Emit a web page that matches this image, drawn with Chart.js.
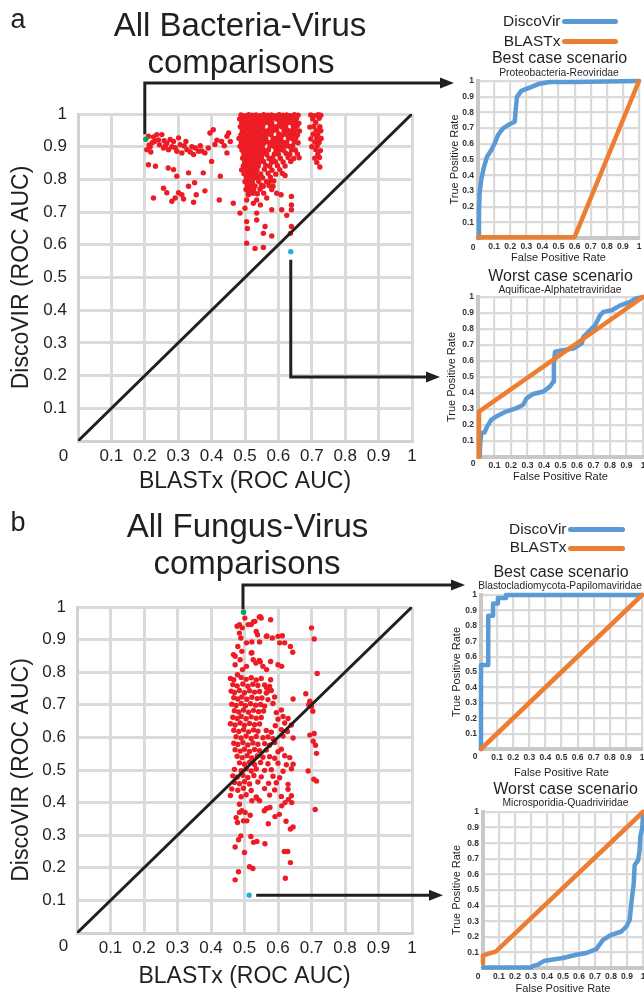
<!DOCTYPE html>
<html>
<head>
<meta charset="utf-8">
<script src="https://cdn.jsdelivr.net/npm/chart.js@4.4.1/dist/chart.umd.min.js"></script>
<style>
body { margin: 0; background: #fff; }
#page { position: relative; width: 644px; height: 998px; overflow: hidden; font-family: "Liberation Sans", Arial, sans-serif; color: #231f20; }
#page canvas { position: absolute; }
.c { position: absolute; white-space: nowrap; line-height: 1; transform: translate(-50%, -50%); }
.r { position: absolute; white-space: nowrap; line-height: 1; transform: translate(-100%, -50%); }
.key { position: absolute; height: 5px; border-radius: 3px; }
.zero { font-size: 8.5px; font-weight: bold; color: #333; }
</style>
</head>
<body>
<div id="page">
  <canvas id="scatterA" width="430" height="400" style="left:0;top:100px"></canvas>
  <canvas id="scatterB" width="430" height="400" style="left:0;top:592px"></canvas>
  <canvas id="rocA1" width="214" height="196" style="left:430px;top:74px"></canvas>
  <canvas id="rocA2" width="214" height="200" style="left:430px;top:290px"></canvas>
  <canvas id="rocB1" width="214" height="196" style="left:430px;top:588px"></canvas>
  <canvas id="rocB2" width="214" height="193" style="left:430px;top:805px"></canvas>
  <canvas id="arrows" width="644" height="998" style="left:0;top:0"></canvas>

  <div class="c" style="left:18px;top:19px;font-size:27px">a</div>
  <div class="c" style="left:18px;top:522px;font-size:27px">b</div>
  <div class="c" style="left:240px;top:23.5px;font-size:33px">All Bacteria-Virus</div>
  <div class="c" style="left:241px;top:61px;font-size:33px">comparisons</div>
  <div class="c" style="left:247.5px;top:525px;font-size:33px">All Fungus-Virus</div>
  <div class="c" style="left:247px;top:562px;font-size:33px">comparisons</div>
  <div class="c" style="left:63.5px;top:455px;font-size:17px">0</div>
  <div class="c" style="left:63.5px;top:945px;font-size:17px">0</div>

  <div class="r" style="left:560.5px;top:21px;font-size:15.5px">DiscoVir</div>
  <div class="key" style="left:562px;top:19px;width:56px;background:#5b9bd5"></div>
  <div class="r" style="left:560.5px;top:40.5px;font-size:15.5px">BLASTx</div>
  <div class="key" style="left:562px;top:39px;width:56px;background:#ed7d31"></div>
  <div class="c" style="left:559.5px;top:58px;font-size:16px">Best case scenario</div>
  <div class="c" style="left:559px;top:73px;font-size:10.3px">Proteobacteria-Reoviridae</div>
  <div class="c" style="left:560.5px;top:276px;font-size:16px">Worst case scenario</div>
  <div class="c" style="left:560px;top:290px;font-size:10.3px">Aquificae-Alphatetraviridae</div>

  <div class="r" style="left:566.5px;top:528.5px;font-size:15.5px">DiscoVir</div>
  <div class="key" style="left:568px;top:526.5px;width:57px;background:#5b9bd5"></div>
  <div class="r" style="left:566.5px;top:547px;font-size:15.5px">BLASTx</div>
  <div class="key" style="left:568px;top:546px;width:57px;background:#ed7d31"></div>
  <div class="c" style="left:561px;top:572px;font-size:16px">Best case scenario</div>
  <div class="c" style="left:560px;top:586px;font-size:10.2px">Blastocladiomycota-Papilomaviridae</div>
  <div class="c" style="left:565.5px;top:789px;font-size:16px">Worst case scenario</div>
  <div class="c" style="left:565.5px;top:803px;font-size:10.3px">Microsporidia-Quadriviridae</div>

  <div class="c zero" style="left:473px;top:247px">0</div>
  <div class="c zero" style="left:473px;top:463px">0</div>
  <div class="c zero" style="left:475px;top:756px">0</div>
  <div class="c zero" style="left:478px;top:976px">0</div>
</div>

<script>
const FONT = '"Liberation Sans", Arial, sans-serif';
Chart.defaults.font.family = FONT;

// ticks shared by every panel (the 0 sits in the corner, written separately)
const tickValues = [0, 0.1, 0.2, 0.3, 0.4, 0.5, 0.6, 0.7, 0.8, 0.9, 1];
const identityLine = [0, 1];

// a: Bacteria-Virus, [BLASTx AUC, DiscoVIR AUC]
const bacteriaBest = [0.203, 0.923];
const bacteriaWorst = [0.637, 0.579];
const bacteriaPoints = [
  [0.211,0.932],[0.226,0.930],[0.236,0.937],[0.251,0.937],[0.206,0.891],[0.216,0.900],[0.229,0.916],[0.244,0.906],
  [0.256,0.896],[0.266,0.911],[0.271,0.891],[0.281,0.900],[0.286,0.916],[0.301,0.927],[0.306,0.906],[0.296,0.886],
  [0.311,0.881],[0.326,0.891],[0.341,0.900],[0.351,0.896],[0.361,0.886],[0.346,0.876],[0.380,0.881],[0.390,0.896],
  [0.395,0.942],[0.405,0.952],[0.416,0.920],[0.430,0.916],[0.446,0.932],[0.451,0.942],[0.456,0.916],[0.446,0.881],
  [0.400,0.855],[0.211,0.845],[0.232,0.840],[0.270,0.835],[0.286,0.830],[0.296,0.810],[0.331,0.820],[0.375,0.820],
  [0.426,0.810],[0.256,0.773],[0.266,0.759],[0.226,0.743],[0.281,0.733],[0.291,0.743],[0.301,0.759],[0.311,0.753],
  [0.316,0.740],[0.331,0.779],[0.346,0.730],[0.349,0.790],[0.354,0.753],[0.380,0.765],[0.423,0.737],[0.465,0.727],
  [0.485,0.697],[0.222,0.912],[0.241,0.921],[0.258,0.918],[0.262,0.903],[0.276,0.922],[0.291,0.897],[0.318,0.902],
  [0.323,0.916],[0.336,0.884],[0.366,0.903],[0.371,0.887],[0.410,0.907],[0.438,0.903],[0.213,0.905],[0.218,0.884],
  [0.488,0.997],[0.499,0.995],[0.511,0.998],[0.522,0.996],[0.533,0.997],[0.545,0.995],[0.556,0.998],[0.567,0.996],
  [0.579,0.997],[0.590,0.995],[0.602,0.998],[0.613,0.996],[0.625,0.997],[0.636,0.995],[0.648,0.998],[0.659,0.996],
  [0.697,0.997],[0.708,0.995],[0.719,0.998],[0.727,0.996],
  [0.484,0.985],[0.495,0.987],[0.506,0.984],[0.518,0.986],[0.529,0.985],[0.540,0.987],[0.552,0.984],[0.563,0.986],
  [0.574,0.985],[0.586,0.987],[0.597,0.984],[0.609,0.986],[0.620,0.985],[0.631,0.987],[0.643,0.984],[0.654,0.986],
  [0.703,0.985],[0.722,0.987],
  [0.490,0.973],[0.501,0.975],[0.512,0.972],[0.524,0.974],[0.535,0.973],[0.546,0.975],[0.557,0.972],[0.569,0.974],
  [0.580,0.973],[0.604,0.975],[0.615,0.972],[0.627,0.974],[0.638,0.973],[0.650,0.975],[0.661,0.972],[0.712,0.974],
  [0.486,0.961],[0.497,0.963],[0.508,0.960],[0.520,0.962],[0.531,0.961],[0.542,0.963],[0.553,0.960],[0.576,0.962],
  [0.588,0.961],[0.599,0.963],[0.611,0.960],[0.622,0.962],[0.645,0.961],[0.656,0.963],[0.694,0.960],[0.706,0.962],
  [0.724,0.961],
  [0.492,0.949],[0.503,0.951],[0.515,0.948],[0.526,0.950],[0.537,0.949],[0.548,0.951],[0.560,0.948],[0.571,0.950],
  [0.583,0.949],[0.594,0.951],[0.617,0.948],[0.628,0.950],[0.640,0.949],[0.651,0.951],[0.663,0.948],[0.713,0.950],
  [0.727,0.949],
  [0.488,0.937],[0.499,0.939],[0.510,0.936],[0.521,0.938],[0.533,0.937],[0.544,0.939],[0.555,0.936],[0.567,0.938],
  [0.578,0.937],[0.601,0.939],[0.612,0.936],[0.623,0.938],[0.635,0.937],[0.646,0.939],[0.657,0.936],[0.704,0.938],
  [0.718,0.937],
  [0.482,0.925],[0.494,0.927],[0.505,0.924],[0.516,0.926],[0.527,0.925],[0.539,0.927],[0.550,0.924],[0.562,0.926],
  [0.584,0.925],[0.596,0.927],[0.607,0.924],[0.630,0.926],[0.641,0.925],[0.652,0.927],[0.697,0.924],[0.715,0.926],
  [0.728,0.925],
  [0.489,0.913],[0.500,0.915],[0.511,0.912],[0.523,0.914],[0.534,0.913],[0.545,0.915],[0.557,0.912],[0.568,0.914],
  [0.579,0.913],[0.591,0.915],[0.602,0.912],[0.614,0.914],[0.625,0.913],[0.648,0.915],[0.659,0.912],[0.709,0.914],
  [0.722,0.913],
  [0.485,0.901],[0.496,0.903],[0.507,0.900],[0.518,0.902],[0.530,0.901],[0.541,0.903],[0.552,0.900],[0.575,0.902],
  [0.586,0.901],[0.598,0.903],[0.609,0.900],[0.621,0.902],[0.632,0.901],[0.643,0.903],[0.700,0.900],[0.716,0.902],
  [0.491,0.889],[0.502,0.891],[0.513,0.888],[0.525,0.890],[0.536,0.889],[0.547,0.891],[0.559,0.888],[0.570,0.890],
  [0.593,0.889],[0.605,0.891],[0.616,0.888],[0.639,0.890],[0.651,0.889],[0.712,0.891],[0.726,0.888],
  [0.497,0.877],[0.508,0.879],[0.520,0.876],[0.531,0.878],[0.542,0.877],[0.554,0.879],[0.565,0.876],[0.588,0.878],
  [0.600,0.877],[0.623,0.879],[0.634,0.876],[0.657,0.878],[0.718,0.877],
  [0.493,0.865],[0.504,0.867],[0.515,0.864],[0.527,0.866],[0.538,0.865],[0.549,0.867],[0.572,0.864],[0.583,0.866],
  [0.606,0.865],[0.629,0.867],[0.646,0.864],[0.662,0.866],[0.709,0.865],[0.723,0.867],
  [0.499,0.853],[0.510,0.855],[0.522,0.852],[0.533,0.854],[0.544,0.853],[0.556,0.855],[0.579,0.852],[0.591,0.854],
  [0.614,0.853],[0.637,0.855],[0.715,0.852],
  [0.495,0.841],[0.506,0.843],[0.517,0.840],[0.528,0.842],[0.540,0.841],[0.562,0.843],[0.574,0.840],[0.597,0.842],
  [0.620,0.841],[0.724,0.838],
  [0.490,0.829],[0.502,0.831],[0.513,0.828],[0.524,0.830],[0.536,0.829],[0.558,0.831],[0.581,0.828],[0.604,0.830],
  [0.497,0.817],[0.509,0.819],[0.520,0.816],[0.531,0.818],[0.547,0.817],[0.569,0.819],[0.592,0.816],[0.612,0.818],
  [0.504,0.805],[0.515,0.807],[0.527,0.804],[0.538,0.806],[0.553,0.805],[0.576,0.807],
  [0.500,0.793],[0.511,0.795],[0.522,0.792],[0.541,0.794],[0.564,0.793],[0.586,0.795],
  [0.507,0.781],[0.518,0.783],[0.530,0.780],[0.549,0.782],[0.572,0.781],
  [0.503,0.769],[0.514,0.771],[0.526,0.768],[0.545,0.770],[0.580,0.769],
  [0.510,0.757],[0.521,0.759],[0.537,0.756],[0.556,0.758],
  [0.505,0.605],[0.530,0.589],[0.555,0.592],[0.505,0.671],[0.507,0.650],[0.535,0.697],[0.555,0.635],[0.580,0.627],
  [0.580,0.707],[0.546,0.722],[0.535,0.676],[0.560,0.656],[0.610,0.707],[0.625,0.690],[0.639,0.748],[0.639,0.722],
  [0.639,0.707],[0.639,0.656],[0.636,0.635],[0.608,0.753],[0.510,0.753],[0.505,0.737],[0.525,0.727],[0.500,0.712],
  [0.525,0.758],[0.555,0.779],[0.575,0.794],[0.595,0.758],[0.584,0.779],[0.565,0.743],[0.535,0.737],[0.620,0.812]
];

// b: Fungus-Virus, [BLASTx AUC, DiscoVIR AUC]
const fungusBest = [0.497, 0.984];
const fungusWorst = [0.514, 0.116];
const fungusPoints = [
  [0.501,0.966],[0.511,0.946],[0.485,0.946],[0.478,0.941],[0.493,0.936],[0.485,0.920],[0.520,0.946],[0.531,0.956],
  [0.544,0.969],[0.550,0.966],[0.578,0.961],[0.535,0.925],[0.539,0.915],[0.565,0.910],[0.583,0.905],[0.600,0.910],
  [0.613,0.912],[0.605,0.890],[0.620,0.890],[0.637,0.879],[0.644,0.861],[0.506,0.890],[0.489,0.905],[0.480,0.879],
  [0.467,0.854],[0.472,0.849],[0.492,0.864],[0.506,0.818],[0.520,0.859],[0.526,0.838],[0.534,0.828],[0.544,0.836],
  [0.555,0.818],[0.566,0.808],[0.578,0.833],[0.600,0.823],[0.611,0.818],[0.487,0.838],[0.472,0.823],[0.494,0.808],
  [0.479,0.792],[0.700,0.936],[0.708,0.902],[0.717,0.796],[0.578,0.777],[0.645,0.718],[0.683,0.734],[0.695,0.711],
  [0.700,0.695],[0.692,0.700],[0.704,0.680],[0.527,0.955],[0.547,0.970],[0.567,0.911],[0.522,0.893],[0.545,0.893],
  [0.522,0.860],[0.547,0.832],[0.571,0.742],[0.566,0.752],
  [0.458,0.781],[0.468,0.777],[0.490,0.784],[0.505,0.778],[0.520,0.783],[0.535,0.776],[0.550,0.781],
  [0.465,0.762],[0.478,0.758],[0.495,0.764],[0.510,0.757],[0.525,0.763],[0.540,0.759],[0.560,0.761],[0.575,0.756],
  [0.460,0.742],[0.470,0.738],[0.485,0.744],[0.500,0.737],[0.515,0.743],[0.530,0.739],[0.545,0.741],[0.565,0.736],[0.580,0.744],
  [0.468,0.722],[0.480,0.718],[0.492,0.724],[0.507,0.717],[0.522,0.723],[0.538,0.719],[0.552,0.721],[0.570,0.716],[0.590,0.724],
  [0.462,0.702],[0.475,0.698],[0.490,0.704],[0.503,0.697],[0.518,0.703],[0.533,0.699],[0.548,0.701],[0.560,0.696],[0.585,0.704],
  [0.470,0.682],[0.483,0.678],[0.497,0.684],[0.512,0.677],[0.527,0.683],[0.542,0.679],[0.557,0.681],[0.595,0.676],[0.610,0.684],
  [0.465,0.662],[0.478,0.658],[0.490,0.664],[0.505,0.657],[0.520,0.663],[0.535,0.659],[0.550,0.661],[0.600,0.656],[0.615,0.664],[0.630,0.658],
  [0.458,0.642],[0.472,0.638],[0.487,0.644],[0.500,0.637],[0.515,0.643],[0.530,0.639],[0.545,0.641],[0.592,0.636],[0.620,0.644],[0.640,0.638],
  [0.468,0.622],[0.483,0.618],[0.497,0.624],[0.512,0.617],[0.527,0.623],[0.540,0.619],[0.565,0.621],[0.580,0.616],[0.610,0.624],[0.628,0.618],
  [0.475,0.602],[0.490,0.598],[0.505,0.604],[0.520,0.597],[0.535,0.603],[0.555,0.599],[0.570,0.601],[0.585,0.596],[0.615,0.604],[0.645,0.598],[0.695,0.607],[0.708,0.612],
  [0.468,0.582],[0.480,0.578],[0.495,0.584],[0.510,0.577],[0.525,0.583],[0.540,0.579],[0.560,0.581],[0.575,0.576],[0.590,0.584],[0.705,0.588],[0.712,0.576],
  [0.472,0.562],[0.487,0.558],[0.500,0.564],[0.515,0.557],[0.530,0.563],[0.545,0.559],[0.565,0.561],[0.600,0.556],[0.610,0.564],[0.715,0.551],
  [0.478,0.542],[0.493,0.538],[0.508,0.544],[0.522,0.537],[0.538,0.543],[0.555,0.539],[0.575,0.541],[0.590,0.536],[0.620,0.544],[0.635,0.538],
  [0.485,0.522],[0.500,0.518],[0.515,0.524],[0.530,0.517],[0.548,0.523],[0.570,0.519],[0.600,0.521],[0.625,0.516],[0.645,0.518],
  [0.470,0.502],[0.490,0.498],[0.505,0.504],[0.520,0.497],[0.535,0.503],[0.560,0.499],[0.580,0.501],[0.615,0.496],[0.640,0.504],[0.690,0.497],
  [0.465,0.482],[0.478,0.478],[0.495,0.484],[0.510,0.477],[0.528,0.483],[0.550,0.479],[0.585,0.481],[0.605,0.476],
  [0.470,0.462],[0.485,0.458],[0.500,0.464],[0.515,0.457],[0.540,0.463],[0.572,0.459],[0.595,0.461],[0.630,0.456],[0.707,0.472],[0.715,0.466],
  [0.462,0.442],[0.480,0.438],[0.497,0.444],[0.520,0.437],[0.560,0.443],[0.590,0.439],[0.630,0.441],
  [0.458,0.422],[0.490,0.418],[0.505,0.424],[0.535,0.417],[0.575,0.423],[0.610,0.419],[0.640,0.421],
  [0.472,0.163],[0.482,0.188],[0.515,0.203],[0.525,0.198],[0.622,0.168],[0.637,0.216],[0.619,0.250],[0.629,0.250],
  [0.500,0.247],[0.472,0.264],[0.482,0.286],[0.489,0.298],[0.519,0.296],[0.527,0.278],[0.537,0.281],[0.561,0.274],
  [0.571,0.335],[0.637,0.319],[0.645,0.325],[0.624,0.343],[0.475,0.354],[0.485,0.370],[0.479,0.339],[0.497,0.344],
  [0.507,0.344],[0.517,0.361],[0.502,0.370],[0.492,0.375],[0.559,0.375],[0.566,0.382],[0.576,0.385],[0.591,0.357],
  [0.604,0.364],[0.611,0.390],[0.621,0.400],[0.631,0.410],[0.641,0.400],[0.485,0.395],[0.522,0.406],[0.537,0.413],
  [0.545,0.406],[0.711,0.379]
];

// ROC curves, [false positive rate, true positive rate]
const proteoDisco = [[0.004,0],[0.006,0.16],[0.01,0.285],[0.02,0.37],[0.035,0.444],[0.056,0.518],[0.083,0.56],[0.104,0.603],
  [0.124,0.655],[0.155,0.698],[0.197,0.725],[0.228,0.74],[0.234,0.814],[0.242,0.899],[0.269,0.937],[0.321,0.958],
  [0.383,0.983],[0.445,0.994],[0.59,0.994],[1,1]];
const proteoBlast = [[0,0.005],[0.6,0.005],[1,1]];
const aquificaeDisco = [[0.01,0.004],[0.014,0.087],[0.02,0.15],[0.04,0.154],[0.055,0.19],[0.08,0.232],[0.11,0.253],
  [0.17,0.284],[0.233,0.305],[0.274,0.326],[0.294,0.367],[0.335,0.394],[0.396,0.409],[0.436,0.44],[0.456,0.471],
  [0.46,0.585],[0.467,0.658],[0.517,0.668],[0.578,0.678],[0.629,0.71],[0.639,0.751],[0.68,0.793],[0.71,0.824],
  [0.74,0.886],[0.76,0.907],[0.811,0.917],[0.862,0.948],[0.923,0.969],[0.953,0.99],[1,1]];
const aquificaeBlast = [[0.006,0],[0.006,0.284],[1,1]];
const blastoDisco = [[0,0],[0,0.545],[0.045,0.545],[0.045,0.865],[0.075,0.865],[0.075,0.945],[0.105,0.945],
  [0.105,0.98],[0.155,0.98],[0.155,1],[1,1]];
const blastoBlast = [[0,0],[1,1]];
const microDisco = [[0,0.003],[0.3,0.003],[0.31,0.012],[0.34,0.02],[0.385,0.047],[0.5,0.064],[0.583,0.085],
  [0.646,0.096],[0.708,0.121],[0.75,0.18],[0.802,0.213],[0.865,0.234],[0.896,0.266],[0.917,0.309],[0.927,0.415],
  [0.942,0.543],[0.948,0.66],[0.969,0.69],[0.979,0.755],[0.983,0.84],[0.996,0.904],[1,1]];
const microBlast = [[0,0.03],[0,0.08],[0.03,0.09],[0.08,0.105],[1,1]];

const xy = arr => arr.map(p => ({ x: p[0], y: p[1] }));

function axis(title, o) {
  return {
    type: 'linear', min: 0, max: 1,
    afterBuildTicks: s => { s.ticks = tickValues.map(v => ({ value: v })); },
    ticks: {
      color: o.tickColor, padding: o.tickPad, autoSkip: false, maxRotation: 0,
      font: { size: o.tickSize, weight: o.bold ? 'bold' : 'normal' },
      callback: v => v === 0 ? '' : String(v)
    },
    grid: { color: '#dadada', lineWidth: o.grid, drawTicks: false },
    border: { color: o.borderColor, width: o.border },
    title: { display: true, text: title, color: '#231f20', font: { size: o.titleSize },
      padding: { top: o.titlePad, bottom: o.titlePad } },
    afterFit: s => {
      if (s.isHorizontal()) s.height = o.size; else s.width = o.size;
      // keep the plot area where the layout padding puts it
      s.paddingTop = s.paddingBottom = s.paddingLeft = s.paddingRight = 0;
    }
  };
}

function scatterChart(id, points, best, worst, pad, xo, yo) {
  const base = { tickColor: '#231f20', tickSize: 17, grid: 3, border: 3, borderColor: '#d2d2d2', titleSize: 23 };
  return new Chart(document.getElementById(id), {
    type: 'scatter',
    data: {
      datasets: [
        { data: xy([best]), backgroundColor: '#00a651', pointRadius: 2.7, borderWidth: 0 },
        { data: xy([worst]), backgroundColor: '#29abe2', pointRadius: 2.7, borderWidth: 0 },
        { data: identityLine.map(v => ({ x: v, y: v })), showLine: true, borderColor: '#231f20',
          borderWidth: 3, pointRadius: 0 },
        { data: xy(points), backgroundColor: '#ed1c24', pointRadius: 2.7, borderWidth: 0, clip: false }
      ]
    },
    options: {
      responsive: false, animation: false, events: [],
      layout: { autoPadding: false, padding: pad },
      plugins: { legend: { display: false }, tooltip: { enabled: false } },
      scales: {
        x: axis('BLASTx (ROC AUC)', Object.assign({}, base, xo)),
        y: axis('DiscoVIR (ROC AUC)', Object.assign({}, base, yo))
      }
    }
  });
}

function rocChart(id, disco, blast, pad, xo, yo) {
  const base = { tickColor: '#333', tickSize: 8.5, bold: true, grid: 2.2, border: 4, borderColor: '#c8c8c8', titleSize: 11 };
  const line = (d, c) => ({ data: xy(d), showLine: true, borderColor: c, borderWidth: 4.5, pointRadius: 0,
    borderJoinStyle: 'round', borderCapStyle: 'round', clip: false });
  return new Chart(document.getElementById(id), {
    type: 'scatter',
    data: { datasets: [line(blast, '#ed7d31'), line(disco, '#5b9bd5')] },
    options: {
      responsive: false, animation: false, events: [],
      layout: { autoPadding: false, padding: pad },
      plugins: { legend: { display: false }, tooltip: { enabled: false } },
      scales: {
        x: axis('False Positive Rate', Object.assign({}, base, xo)),
        y: axis('True Positive Rate', Object.assign({}, base, yo))
      }
    }
  });
}

const chartA = scatterChart('scatterA', bacteriaPoints, bacteriaBest, bacteriaWorst,
  { left: 0, top: 14, right: 18, bottom: 0 },
  { size: 59, tickPad: 5, titlePad: 4.2 }, { size: 78, tickPad: 11, titlePad: 8.2 });
const chartB = scatterChart('scatterB', fungusPoints, fungusBest, fungusWorst,
  { left: 0, top: 15, right: 18, bottom: 0 },
  { size: 59, tickPad: 5, titlePad: 1.2 }, { size: 77, tickPad: 11, titlePad: 8.2 });

const rocA1 = rocChart('rocA1', proteoDisco, proteoBlast, { left: 14, top: 7, right: 5, bottom: 0 },
  { size: 32, tickPad: 4, titlePad: 5.4 }, { size: 34, tickPad: 4, titlePad: 4.4 });
const rocA2 = rocChart('rocA2', aquificaeDisco, aquificaeBlast, { left: 11, top: 7, right: 1, bottom: 0 },
  { size: 33, tickPad: 4, titlePad: 6.7 }, { size: 37, tickPad: 4, titlePad: 4.4 });
const rocB1 = rocChart('rocB1', blastoDisco, blastoBlast, { left: 16, top: 7, right: 2, bottom: 0 },
  { size: 35, tickPad: 4, titlePad: 4.4 }, { size: 35, tickPad: 4, titlePad: 4.4 });
const rocB2 = rocChart('rocB2', microDisco, microBlast, { left: 16, top: 7, right: 1, bottom: 0 },
  { size: 30, tickPad: 4, titlePad: 2.4 }, { size: 37, tickPad: 4, titlePad: 4.4 });

// connectors from the highlighted points to the ROC panels
const g = document.getElementById('arrows').getContext('2d');
g.strokeStyle = g.fillStyle = '#231f20';
g.lineWidth = 3;

function at(chart, x, y) {
  const c = chart.canvas;
  return { x: c.offsetLeft + chart.scales.x.getPixelForValue(x), y: c.offsetTop + chart.scales.y.getPixelForValue(y) };
}
function area(chart) {
  const c = chart.canvas, a = chart.chartArea;
  return { left: c.offsetLeft + a.left, top: c.offsetTop + a.top, bottom: c.offsetTop + a.bottom };
}
function connector(path) {
  const tip = path[path.length - 1];
  g.beginPath();
  g.moveTo(path[0][0], path[0][1]);
  for (let i = 1; i < path.length - 1; i++) g.lineTo(path[i][0], path[i][1]);
  g.lineTo(tip[0] - 10, tip[1]);
  g.stroke();
  g.beginPath();
  g.moveTo(tip[0], tip[1]);
  g.lineTo(tip[0] - 14, tip[1] - 5.5);
  g.lineTo(tip[0] - 14, tip[1] + 5.5);
  g.closePath();
  g.fill();
}

let p = at(chartA, bacteriaBest[0], bacteriaBest[1]);
let r = area(rocA1);
connector([[p.x - 1, p.y - 5], [p.x - 1, r.top + 2], [r.left - 24, r.top + 2]]);

p = at(chartA, bacteriaWorst[0], bacteriaWorst[1]);
r = area(rocA2);
let mid = (r.top + r.bottom) / 2;
connector([[p.x, p.y + 8], [p.x, mid], [r.left - 38, mid]]);

p = at(chartB, fungusBest[0], fungusBest[1]);
r = area(rocB1);
connector([[p.x - 0.5, p.y - 3], [p.x - 0.5, r.top - 10], [r.left - 16, r.top - 10]]);

p = at(chartB, fungusWorst[0], fungusWorst[1]);
r = area(rocB2);
connector([[p.x + 7, p.y], [r.left - 40, p.y]]);
</script>
</body>
</html>
